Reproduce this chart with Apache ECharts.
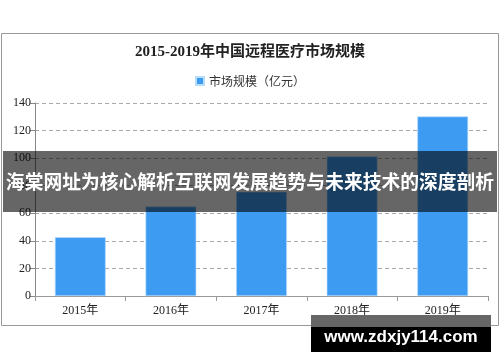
<!DOCTYPE html>
<html>
<head>
<meta charset="utf-8">
<script src="https://cdn.jsdelivr.net/npm/echarts@6/dist/echarts.min.js"></script>
<style>
html,body{margin:0;padding:0;background:#fff;}
#chart{width:500px;height:362px;}
</style>
</head>
<body>
<div id="chart"></div>
<script>
const titleText = '2015-2019年中国远程医疗市场规模';
const seriesName = '市场规模（亿元）';
const categories = ['2015年', '2016年', '2017年', '2018年', '2019年'];
const values = [42.6, 64.9, 75.6, 101.3, 130.2];
const bannerText = '海棠网址为核心解析互联网发展趋势与未来技术的深度剖析';
const urlText = 'www.zdxjy114.com';

const serifFont = '"Liberation Serif", "DejaVu Serif", "Noto Sans CJK SC", serif';
const cjkFont = '"Noto Sans CJK SC", sans-serif';

const chart = echarts.init(document.getElementById('chart'), null, {renderer: 'canvas'});
chart.setOption({
  animation: false,
  backgroundColor: '#fff',
  title: {
    text: titleText,
    left: 'center',
    top: 40,
    textStyle: {fontFamily: serifFont, fontSize: 15, fontWeight: 'bold', color: '#222'}
  },
  legend: {
    data: [seriesName],
    top: 70,
    left: 'center',
    itemWidth: 8,
    itemHeight: 8,
    itemGap: 5,
    icon: 'rect',
    textStyle: {fontFamily: cjkFont, fontSize: 12, color: '#333'}
  },
  grid: {left: 35, right: 12, top: 103, bottom: 66},
  xAxis: {
    type: 'category',
    data: categories,
    axisLine: {lineStyle: {color: '#999'}},
    axisTick: {show: true, alignWithLabel: false, length: 5, lineStyle: {color: '#999'}},
    axisLabel: {fontFamily: serifFont, fontSize: 12, color: '#222', margin: 9}
  },
  yAxis: {
    type: 'value',
    min: 0,
    max: 140,
    interval: 20,
    axisLine: {show: true, lineStyle: {color: '#888'}},
    axisTick: {show: true, length: 5, lineStyle: {color: '#888'}},
    axisLabel: {fontFamily: serifFont, fontSize: 12, color: '#222', margin: 4},
    splitLine: {show: true, lineStyle: {type: [4, 3], color: '#aaa'}}
  },
  series: [{
    name: seriesName,
    type: 'bar',
    data: values,
    barWidth: '56%',
    itemStyle: {color: '#3d9cf2', borderColor: '#b8dcfb', borderWidth: 0.6}
  }],
  graphic: [
    {type: 'rect', shape: {x: 1.5, y: 33.5, width: 497, height: 292}, style: {fill: 'none', stroke: '#999', lineWidth: 1}, z: 1, silent: true},
    {type: 'rect', shape: {x: 3, y: 151, width: 494, height: 61}, style: {fill: 'rgba(0,0,0,0.6)'}, z: 100, silent: true},
    {type: 'text', left: 'center', top: 172, style: {text: bannerText, fill: '#fff', fontFamily: 'Noto Sans CJK SC', fontSize: 18.8, fontWeight: 'bold'}, z: 101, silent: true},
    {type: 'rect', shape: {x: 311, y: 315, width: 180, height: 12}, style: {fill: '#666'}, z: 100, silent: true},
    {type: 'rect', shape: {x: 311, y: 327, width: 180, height: 25}, style: {fill: '#000'}, z: 100, silent: true},
    {type: 'text', x: 401, y: 337, style: {text: urlText, fill: '#fff', fontFamily: 'Liberation Sans', fontSize: 17, fontWeight: 'bold', align: 'center', verticalAlign: 'middle'}, z: 101, silent: true}
  ]
});
</script>
</body>
</html>
